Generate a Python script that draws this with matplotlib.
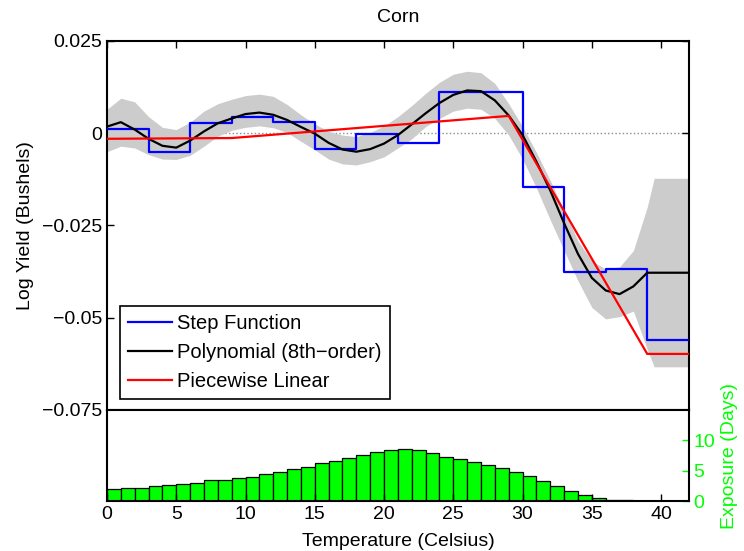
import matplotlib
matplotlib.use("Agg")
import matplotlib.pyplot as plt
import numpy as np

plt.rcParams['font.family'] = ['Liberation Sans', 'DejaVu Sans']
plt.rcParams['font.size'] = 14

# step function: 3-degree bins
step_edges = [0, 3, 6, 9, 12, 15, 18, 21, 24, 27, 30, 33, 36, 39, 42]
step_vals = [0.0011, -0.0052, 0.0028, 0.0043, 0.0031, -0.0042, -0.0003,
             -0.0026, 0.0112, 0.0112, -0.0146, -0.0376, -0.0369, -0.0560]

# piecewise linear knots
pw_x = [0, 9, 29, 39, 42]
pw_y = [-0.0015, -0.0013, 0.0047, -0.0598, -0.0598]

# 8th-order polynomial and its confidence band
temps = [0, 1, 2, 3, 4, 5, 6, 7, 8, 9, 10, 11, 12, 13, 14, 15, 16, 17, 18, 19,
         20, 21, 22, 23, 24, 25, 26, 27, 28, 29, 30, 31, 32, 33, 34, 35, 36, 37,
         38, 39, 39.5, 42]
poly = [0.0018, 0.0030, 0.0010, -0.0015, -0.0034, -0.0039, -0.0020, 0.0005,
        0.0027, 0.0040, 0.0052, 0.0056, 0.0050, 0.0036, 0.0017, -0.0001,
        -0.0026, -0.0044, -0.0050, -0.0043, -0.0028, -0.0005, 0.0024, 0.0054,
        0.0082, 0.0104, 0.0116, 0.0114, 0.0089, 0.0048, -0.0005, -0.0077,
        -0.0155, -0.0244, -0.0327, -0.0392, -0.0426, -0.0436, -0.0415, -0.0378,
        -0.0378, -0.0378]
band_hi = [0.0065, 0.0095, 0.0085, 0.0045, 0.0016, 0.0010, 0.0030, 0.0060,
           0.0080, 0.0092, 0.0102, 0.0106, 0.0100, 0.0078, 0.0050, 0.0025,
           0.0005, -0.0005, -0.0009, 0.0002, 0.0020, 0.0045, 0.0075, 0.0108,
           0.0138, 0.0160, 0.0168, 0.0164, 0.0135, 0.0080, 0.0018, -0.0052,
           -0.0128, -0.0210, -0.0292, -0.0346, -0.0368, -0.0362, -0.0318,
           -0.0200, -0.0122, -0.0122]
band_lo = [-0.0050, -0.0035, -0.0040, -0.0058, -0.0070, -0.0071, -0.0060,
           -0.0035, -0.0008, 0.0008, 0.0016, 0.0020, 0.0015, 0.0002, -0.0022,
           -0.0045, -0.0070, -0.0083, -0.0086, -0.0077, -0.0064, -0.0040,
           -0.0015, 0.0018, 0.0040, 0.0060, 0.0068, 0.0065, 0.0040, -0.0005,
           -0.0070, -0.0148, -0.0235, -0.0318, -0.0400, -0.0472, -0.0503,
           -0.0497, -0.0482, -0.0585, -0.0633, -0.0633]

# exposure histogram (days per 1-degree bin)
bins = list(range(0, 42))
days = [1.91, 2.19, 2.22, 2.46, 2.62, 2.79, 3.0, 3.39, 3.44, 3.72, 3.99, 4.43,
        4.75, 5.25, 5.63, 6.23, 6.67, 7.1, 7.54, 8.09, 8.47, 8.52, 8.36, 7.87,
        7.27, 6.89, 6.39, 5.9, 5.52, 4.81, 4.1, 3.33, 2.46, 1.69, 0.98, 0.49,
        0.22, 0.1, 0.05, 0.02, 0.0, 0.0]

green = (0, 1, 0)

fig = plt.figure(figsize=(7.44, 5.51), dpi=100)
ax1 = fig.add_axes([0.1438, 0.2559, 0.782, 0.6697])
ax2 = fig.add_axes([0.1438, 0.0907, 0.782, 0.1652])

ax1.axhline(0, color='0.55', linestyle=':', linewidth=1, zorder=1)
ax1.fill_between(temps, band_lo, band_hi, color='#cccccc', linewidth=0, zorder=2)
ax1.step(step_edges, step_vals + [step_vals[-1]], where='post', color='b',
         linewidth=1.6, label='Step Function', zorder=3)
ax1.plot(temps, poly, color='k', linewidth=1.6, label='Polynomial (8th\u2212order)', zorder=4)
ax1.plot(pw_x, pw_y, color='r', linewidth=1.6, label='Piecewise Linear', zorder=5)

ax1.set_xlim(0, 42)
ax1.set_ylim(-0.075, 0.025)
ax1.set_xticks(range(0, 41, 5))
ax1.set_yticks([-0.075, -0.05, -0.025, 0, 0.025])
ax1.set_yticklabels(['\u22120.075', '\u22120.05', '\u22120.025', '0', '0.025'])
ax1.tick_params(direction='in', length=5, width=1, top=True, bottom=False,
                labelbottom=False, right=True)
ax1.set_ylabel('Log Yield (Bushels)', labelpad=6)
ax1.set_title('Corn', fontsize=14, pad=14)
for s in ax1.spines.values():
    s.set_linewidth(1.5)

leg = ax1.legend(loc='lower left', bbox_to_anchor=(0.022, 0.03), borderaxespad=0,
                 fancybox=False, framealpha=1, edgecolor='k', handlelength=2.2,
                 handletextpad=0.25, borderpad=0.4, labelspacing=0.5, fontsize=14.5)
leg.get_frame().set_linewidth(1.2)

ax2.bar(bins, days, width=1, align='edge', color=green, edgecolor='k', linewidth=0.9)
ax2.set_xlim(0, 42)
ax2.set_ylim(0, 15)
ax2.set_xticks(range(0, 41, 5))
ax2.set_yticks([0, 5, 10])
ax2.yaxis.tick_right()
ax2.yaxis.set_label_position('right')
ax2.tick_params(axis='x', direction='in', length=5, width=1)
ax2.tick_params(axis='y', direction='in', length=5, width=1, colors=green)
ax2.set_xlabel('Temperature (Celsius)', labelpad=7)
ax2.set_ylabel('Exposure (Days)', color=green, labelpad=4)
for s in ax2.spines.values():
    s.set_linewidth(1.5)

fig.savefig('out.png', dpi=100)
